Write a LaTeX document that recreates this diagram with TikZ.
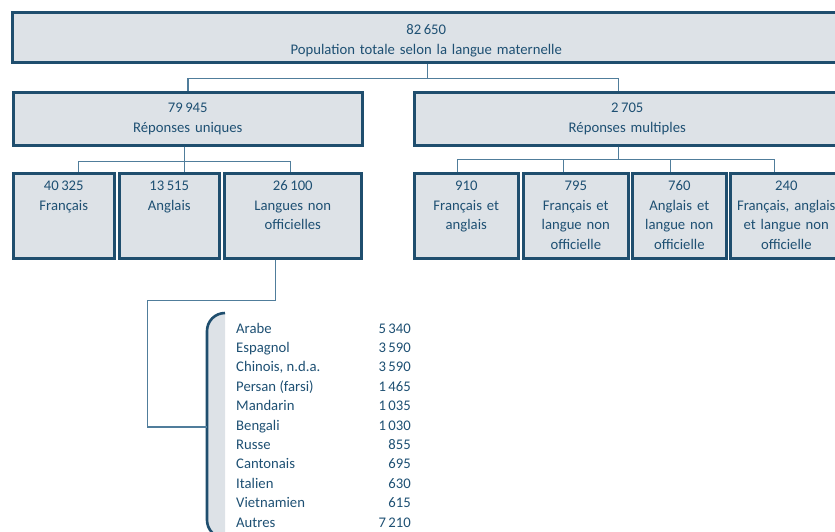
\documentclass[tikz,border=0pt]{standalone}
\usepackage{fontspec}
\setmainfont{Carlito}
\definecolor{boxline}{RGB}{31,78,110}
\definecolor{boxfill}{RGB}{221,226,231}
\definecolor{ink}{RGB}{30,80,115}
\definecolor{linkcol}{RGB}{80,125,155}
\begin{document}
\begin{tikzpicture}[x=1pt,y=-1pt,
    every node/.style={font=\fontsize{14.7}{19.4}\selectfont,text=ink},
    cell/.style={draw=boxline,fill=boxfill,line width=2.6pt,align=center,inner sep=0pt,anchor=north west},
    leaf/.style={cell,text height=17.6pt,text depth=67.4pt},
    entry/.style={inner sep=0pt},
    link/.style={draw=linkcol,line width=1.6pt}]
       \useasboundingbox (0,0) rectangle (835,531);
       \clip (0,0) rectangle (835,531);
       \node[cell,text width=828pt,text height=22.6pt,text depth=27.4pt] (total) at (11,11) {82\,650\\Population totale selon la langue maternelle};
       \node[cell,text width=349pt,text height=20.3pt,text depth=32.7pt] (uniq) at (12,91) {79\,945\\Réponses uniques};
       \node[cell,text width=426pt,text height=20.3pt,text depth=32.7pt] (mult) at (413,91) {2\,705\\Réponses multiples};
       \node[leaf,text width=101pt] (fr) at (12,172) {40\,325\\Français};
       \node[leaf,text width=100pt] (en) at (118,172) {13\,515\\Anglais};
       \node[leaf,text width=137pt] (nonoff) at (223,172) {26\,100\\Langues non\\officielles};
       \node[leaf,text width=104pt] (fren) at (413,172) {910\\Français et\\anglais};
       \node[leaf,text width=105pt] (frno) at (522,172) {795\\Français et\\langue non\\officielle};
       \node[leaf,text width=94pt] (enno) at (631,172) {760\\Anglais et\\langue non\\officielle};
       \node[leaf,text width=112pt] (frenno) at (729,172) {240\\Français, anglais\\et langue non\\officielle};
       \draw[link] ([xshift=1pt]total.south) -- ++(0,15) -| ([xshift=-9pt]mult.north);
       \draw[link] ([xshift=1pt]total.south) ++(0,15) -| (uniq.north);
       \foreach \n/\s in {fr/14.5,en/15,nonoff/-2.5}
         \draw[link] ([xshift=-3.5pt]uniq.south) -- ++(0,15) -| ([xshift=\s pt]\n.north);
       \foreach \n/\s in {fren/-9,frno/-12.5,enno/-9,frenno/-12}
         \draw[link] ([xshift=-9pt]mult.south) -- ++(0,13) -| ([xshift=\s pt]\n.north);
       \path[fill=boxfill,draw=boxline,line width=2.6pt,rounded corners=18pt] (225,313) -- (207,313) -- (207,538) -- (225,538);
       \coordinate (brk) at (207,427);
       \draw[link] ([xshift=-17.5pt]nonoff.south) |- ++(-128,41) |- (brk);
       \foreach \lang/\num [count=\i from 0] in {Arabe/5\,340,Espagnol/3\,590,{Chinois, n.d.a.}/3\,590,Persan (farsi)/1\,465,Mandarin/1\,035,Bengali/1\,030,Russe/855,Cantonais/695,Italien/630,Vietnamien/615,Autres/7\,210}{
         \node[entry,anchor=base west] (lang\i) at (236,333+19.4*\i) {\lang};
         \node[entry,anchor=base east] (num\i) at (411,333+19.4*\i) {\num};
       }
     \end{tikzpicture}
\end{document}
